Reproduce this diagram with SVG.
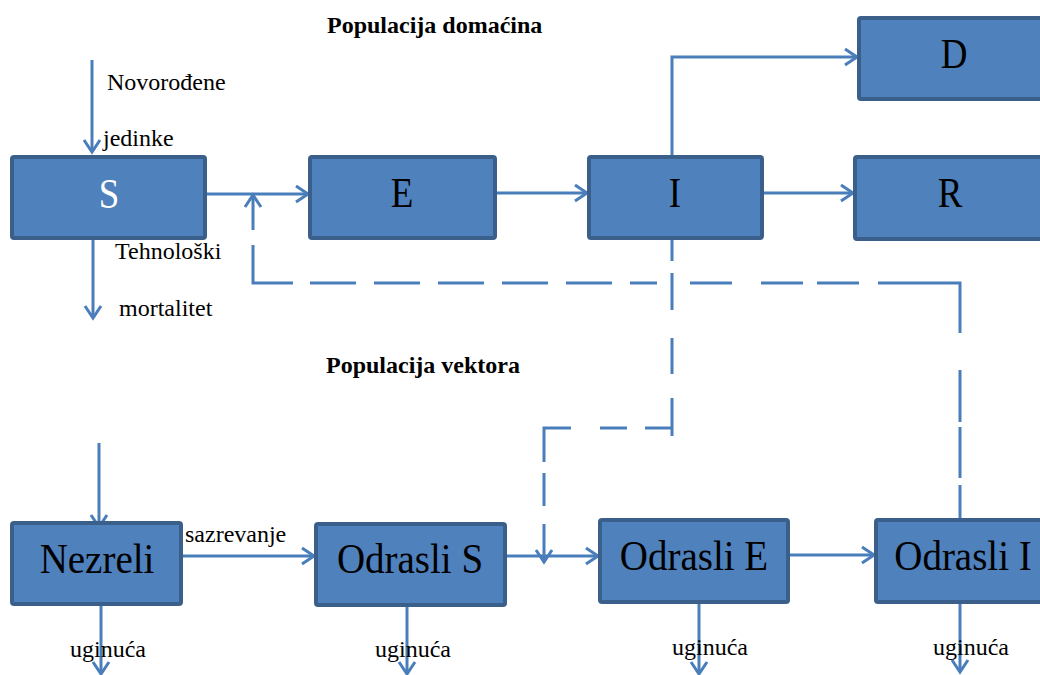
<svg xmlns="http://www.w3.org/2000/svg" width="1040" height="675" viewBox="0 0 1040 675">
<style>
.box{fill:#4F81BD;stroke:#3A5F8B;stroke-width:4}
.lbl{font-family:"Liberation Serif","Times New Roman",serif;fill:#000;text-anchor:middle}
.big{font-size:37px}
.big2{font-size:39px}
.sm{font-family:"Liberation Serif","Times New Roman",serif;font-size:24px;fill:#000}
.ttl{font-family:"Liberation Serif","Times New Roman",serif;font-size:24px;font-weight:bold;fill:#000}
.c{fill:none;stroke:#4A7EBB;stroke-width:3}
</style>
<defs>
<marker id="ah" markerUnits="userSpaceOnUse" markerWidth="18" markerHeight="22" refX="14" refY="10" orient="auto">
<path d="M2,2 L14,10 L2,18" fill="none" stroke="#4A7EBB" stroke-width="3"/>
</marker>
</defs>
<text class="ttl" x="327" y="33">Populacija domaćina</text>
<text class="ttl" x="326" y="373">Populacija vektora</text>
<g id="connectors">
<path class="c" d="M92,60 V152" marker-end="url(#ah)"/>
<path class="c" d="M93,232 V318" marker-end="url(#ah)"/>
<path class="c" d="M207,194 H308" marker-end="url(#ah)"/>
<path class="c" d="M497,193 H587" marker-end="url(#ah)"/>
<path class="c" d="M764,193 H853" marker-end="url(#ah)"/>
<path class="c" d="M672,155 V57 H857" marker-end="url(#ah)"/>
<path class="c" d="M960,518 V283 H253 V195" stroke-dasharray="33 7 51 5 52 37 132 19 42 14 42 29 42 33 27 18 46 18 46 18 46 18 46 18 46 17 78 15 35 20" marker-end="url(#ah)"/>
<path class="c" d="M672,240 V436" stroke-dasharray="21 12 37 28 36 24 38 10"/>
<path class="c" d="M672,428 H544 V562" stroke-dasharray="27 18 27 29 61 11 33 18 38 10" marker-end="url(#ah)"/>
<path class="c" d="M99,443 V527" marker-end="url(#ah)"/>
<path class="c" d="M183,556 H314" marker-end="url(#ah)"/>
<path class="c" d="M507,556 H598" marker-end="url(#ah)"/>
<path class="c" d="M790,555 H874" marker-end="url(#ah)"/>
<path class="c" d="M101,590 V674" marker-end="url(#ah)"/>
<path class="c" d="M407,590 V674" marker-end="url(#ah)"/>
<path class="c" d="M699,590 V674" marker-end="url(#ah)"/>
<path class="c" d="M960,583 V672" marker-end="url(#ah)"/>
</g>
<g id="node-S"><rect class="box" x="12" y="157" width="193" height="81" rx="2"/><text class="lbl big" transform="translate(109,208) scale(1,1.15)" style="fill:#fff">S</text></g>
<g id="node-E"><rect class="box" x="310" y="157" width="185" height="81" rx="2"/><text class="lbl big" transform="translate(402,207) scale(1,1.15)">E</text></g>
<g id="node-I"><rect class="box" x="589" y="157" width="173" height="81" rx="2"/><text class="lbl big" transform="translate(675,207) scale(1,1.15)">I</text></g>
<g id="node-D"><rect class="box" x="859" y="18" width="200" height="81" rx="2"/><text class="lbl big" transform="translate(954,68) scale(1,1.15)">D</text></g>
<g id="node-R"><rect class="box" x="855" y="157" width="200" height="82" rx="2"/><text class="lbl big" transform="translate(950,207) scale(1,1.15)">R</text></g>
<g id="node-Nezreli"><rect class="box" x="12" y="523" width="169" height="81" rx="2"/><text class="lbl big2" transform="translate(97,573) scale(1,1.08)">Nezreli</text></g>
<g id="node-OdrasliS"><rect class="box" x="316" y="524" width="189" height="81" rx="2"/><text class="lbl big2" transform="translate(410,573) scale(1,1.08)">Odrasli S</text></g>
<g id="node-OdrasliE"><rect class="box" x="600" y="520" width="188" height="82" rx="2"/><text class="lbl big2" transform="translate(694,570) scale(1,1.08)">Odrasli E</text></g>
<g id="node-OdrasliI"><rect class="box" x="876" y="520" width="200" height="82" rx="2"/><text class="lbl big2" transform="translate(963,570) scale(1,1.08)">Odrasli I</text></g>
<g id="labels">
<text class="sm" x="107" y="90">Novorođene</text>
<text class="sm" x="103" y="146">jedinke</text>
<text class="sm" x="115" y="259">Tehnološki</text>
<text class="sm" x="119" y="316">mortalitet</text>
<text class="sm" x="185" y="542">sazrevanje</text>
<text class="sm" x="70" y="657">uginuća</text>
<text class="sm" x="375" y="657">uginuća</text>
<text class="sm" x="672" y="655">uginuća</text>
<text class="sm" x="933" y="655">uginuća</text>
</g>
</svg>
